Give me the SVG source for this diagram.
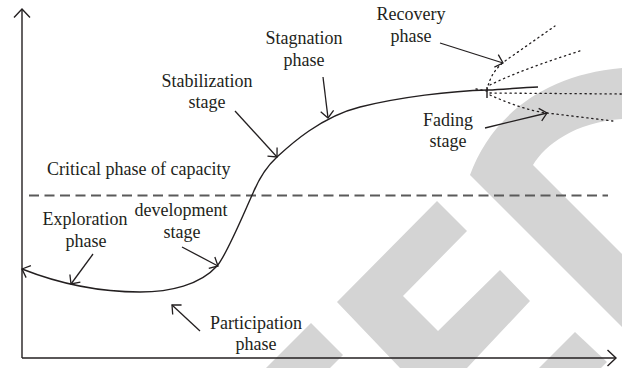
<svg xmlns="http://www.w3.org/2000/svg" width="622" height="368" viewBox="0 0 622 368">
<style>
text{font-family:"Liberation Serif","Times New Roman",serif;font-size:18px;fill:#231f20;text-anchor:middle}
.ln{fill:none;stroke:#231f20;stroke-width:1.4}
.ptr{fill:none;stroke:#231f20;stroke-width:1.3;marker-end:url(#ah)}
.dot{fill:none;stroke:#231f20;stroke-width:1.3;stroke-dasharray:1.3 3.7;stroke-linecap:round}
.wm{fill:#d4d4d4}
</style>
<defs>
<marker id="ah" viewBox="-10 -8 12 16" refX="0" refY="0" markerWidth="12" markerHeight="16" markerUnits="userSpaceOnUse" orient="auto-start-reverse" overflow="visible">
<path d="M-7,-6.5 L0,0 L-7,6.5" fill="none" stroke="#231f20" stroke-width="1.3"/>
</marker>
<marker id="ax" viewBox="-10 -10 12 20" refX="0" refY="0" markerWidth="12" markerHeight="20" markerUnits="userSpaceOnUse" orient="auto" overflow="visible">
<path d="M-8.5,-8 L0,0 L-8.5,8" fill="none" stroke="#231f20" stroke-width="1.4"/>
</marker>
</defs>
<g id="watermark">
<path class="wm" d="M470,175 C490,120 540,75 622,68 L622,119 C575,122 545,145 533,165 L622,254 L622,327 Z"/>
<path class="wm" d="M437,201 L467,231 L403,296 L438,331 L500,270 L530,301 L467,368 L400,368 L337,302 Z"/>
<path class="wm" d="M311,323 L343,355 L330,368 L266,368 Z"/>
<path class="wm" d="M575,332 L607,362 L601,368 L539,368 Z"/>
</g>
<g id="connectors">
<path id="y-axis" class="ln" d="M22,358 L22,9" marker-end="url(#ax)"/>
<path id="x-axis" class="ln" d="M22,358 L616,358" marker-end="url(#ax)"/>
<path id="critical-line" d="M29,195.5 L608,195.5" fill="none" stroke="#5a5a5a" stroke-width="1.8" stroke-dasharray="10 5.5"/>
<path id="main-curve" class="ln" marker-start="url(#ah)" d="M22,269 C60,284 100,292 140,292 C170,292 200,285 217,266 C226,256 240,222 253,193 C258,181 265,168 277,157 C289,146 320,117 360,107 C400,97 450,91 488,90 C505,89.5 520,87.5 538,87"/>
<path class="ln" d="M487,87 L487,98" stroke-width="1.1"/>
<path class="dot" d="M476,89 L487,91"/>
<path class="dot" d="M487,90 C490,76 496,68 505,61 L555,26"/>
<path class="dot" d="M490,85 Q520,70 583,50"/>
<path class="dot" d="M490,93 L622,94"/>
<path class="dot" d="M490,95 C510,104 530,111 547,113 L613,121"/>
<path class="ptr" d="M440,43 L503,63"/>
<path class="ptr" d="M323,77 L328,118"/>
<path class="ptr" d="M235,111 L277,157"/>
<path class="ptr" d="M182,247 L218,266"/>
<path class="ptr" d="M93,254 L71,284"/>
<path class="ptr" d="M200,331 L172,305"/>
<path class="ptr" d="M485,128 L547,113"/>
</g>
<g id="recovery-phase"><text x="411" y="20">Recovery</text><text x="411" y="42">phase</text></g>
<g id="stagnation-phase"><text x="304" y="44">Stagnation</text><text x="304" y="66">phase</text></g>
<g id="stabilization-stage"><text x="207" y="87">Stabilization</text><text x="207" y="108">stage</text></g>
<g id="fading-stage"><text x="448" y="126">Fading</text><text x="448" y="147">stage</text></g>
<g id="critical-phase"><text x="47" y="175" style="text-anchor:start">Critical phase of capacity</text></g>
<g id="exploration-phase"><text x="85" y="225">Exploration</text><text x="86" y="247">phase</text></g>
<g id="development-stage"><text x="181" y="216">development</text><text x="182" y="238">stage</text></g>
<g id="participation-phase"><text x="256" y="329">Participation</text><text x="256" y="350">phase</text></g>
</svg>
